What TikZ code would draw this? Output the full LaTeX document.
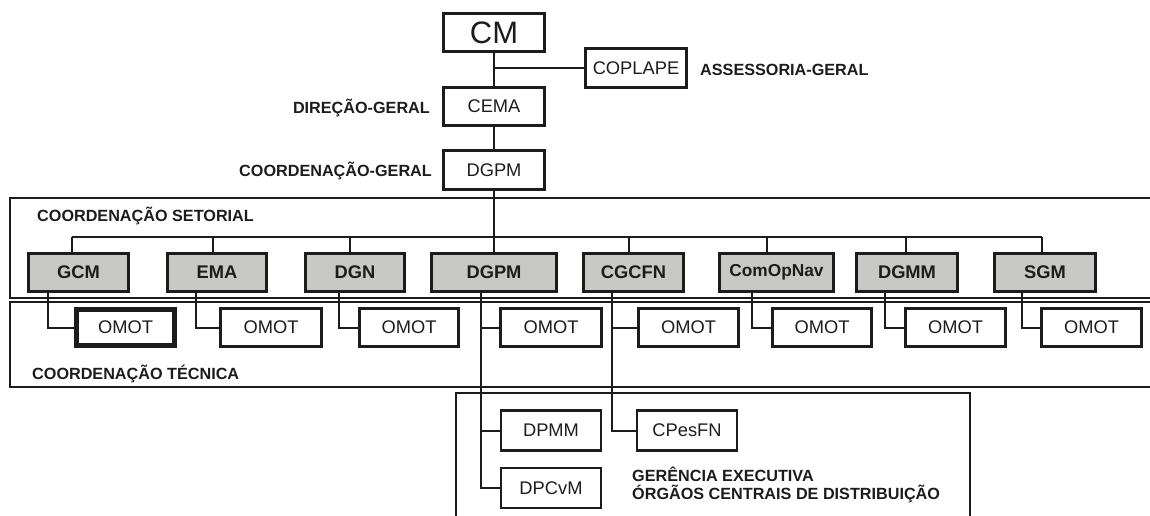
\documentclass[tikz,border=0pt]{standalone}
\usepackage{fontspec}
\setmainfont{Liberation Sans}
\definecolor{boxgray}{RGB}{200,201,198}
\definecolor{ink}{RGB}{28,28,28}
\begin{document}
\begin{tikzpicture}[x=1pt,y=-1pt,
  box/.style={draw=ink, line width=2.6pt, minimum height=38pt, minimum width=100pt, inner sep=0pt,
    font=\fontsize{18.3}{20}\selectfont, text=ink},
  gbox/.style={box, fill=boxgray, line width=3.2pt, font=\fontsize{18.3}{20}\selectfont\bfseries},
  lbl/.style={font=\fontsize{16.2}{18}\selectfont\bfseries, text=ink, inner sep=0pt},
  conn/.style={draw=ink, line width=2pt},
  thinconn/.style={draw=ink, line width=1.4pt},
  band/.style={draw=ink, line width=1.5pt}]
\useasboundingbox (0,0) rectangle (1150,515);

% bands
\draw[band] (1152,198) -- (10,198) -- (10,298) -- (1152,298);
\draw[band] (1152,302) -- (10,302) -- (10,387) -- (1152,387);
\draw[band] (456,520) -- (456,393) -- (970,393) -- (970,520);

% top hierarchy
\node[box, minimum width=101pt, font=\fontsize{31}{34}\selectfont] (cm) at (494,32.5) {CM};
\node[box, minimum width=101pt, minimum height=39pt, line width=2.3pt] (coplape) at (636,68) {COPLAPE};
\node[box, minimum width=101pt] (cema) at (494,106.5) {CEMA};
\node[box, minimum width=101pt, minimum height=39pt] (dgpm0) at (494,170) {DGPM};

\draw[conn] (cm.south) -- (cema.north);
\draw[thinconn] (cm.south |- coplape.west) -- (coplape.west);
\draw[conn] (cema.south) -- (dgpm0.north);

\node[lbl, anchor=base west] (assess) at (700,75.5) {ASSESSORIA-GERAL};
\node[lbl, anchor=base east] (dirg) at (430,113) {DIREÇÃO-GERAL};
\node[lbl, anchor=base east] (coordg) at (432,176) {COORDENAÇÃO-GERAL};

% sectorial level
\node[lbl, anchor=base west] (setorial) at (37,221) {COORDENAÇÃO SETORIAL};
\node[gbox, minimum width=100pt] (gcm) at (78.5,272.5) {GCM};
\node[gbox, minimum width=99pt] (ema) at (217,272.5) {EMA};
\node[gbox, minimum width=99pt] (dgn) at (355,272.5) {DGN};
\node[gbox, minimum width=125pt] (dgpm) at (494,272.5) {DGPM};
\node[gbox, minimum width=100pt] (cgcfn) at (633.5,272.5) {CGCFN};
\node[gbox, minimum width=114pt, font=\fontsize{17.3}{19}\selectfont\bfseries] (comop) at (776.5,272.5) {ComOpNav};
\node[gbox, minimum width=101pt] (dgmm) at (907,272.5) {DGMM};
\node[gbox, minimum width=101pt] (sgm) at (1045,272.5) {SGM};

\coordinate (b1) at (72,237);
\coordinate (b2) at (213,237);
\coordinate (b3) at (350,237);
\coordinate (b5) at (629,237);
\coordinate (b6) at (767,237);
\coordinate (b7) at (906,237);
\coordinate (b8) at (1042,237);
\draw[conn] (b1) -- (b8);
\draw[conn] (dgpm0.south) -- (dgpm.north);
\draw[conn] (b1) -- (b1 |- gcm.north);
\draw[conn] (b2) -- (b2 |- ema.north);
\draw[conn] (b3) -- (b3 |- dgn.north);
\draw[conn] (b5) -- (b5 |- cgcfn.north);
\draw[conn] (b6) -- (b6 |- comop.north);
\draw[conn] (b7) -- (b7 |- dgmm.north);
\draw[conn] (b8) -- (b8 |- sgm.north);

% technical level
\node[lbl, anchor=base west] (tecnica) at (32,379) {COORDENAÇÃO TÉCNICA};
\node[box, minimum width=98pt, minimum height=36pt, line width=5pt] (o1) at (125.5,327.5) {OMOT};
\node[box, minimum width=101pt] (o2) at (271,327.5) {OMOT};
\node[box, minimum width=99pt] (o3) at (409,327.5) {OMOT};
\node[box, minimum width=101pt] (o4) at (551,327.5) {OMOT};
\node[box, minimum width=100pt] (o5) at (688.5,327.5) {OMOT};
\node[box, minimum width=99pt] (o6) at (822,327.5) {OMOT};
\node[box, minimum width=100pt] (o7) at (955.5,327.5) {OMOT};
\node[box, minimum width=100pt] (o8) at (1091.5,327.5) {OMOT};

\coordinate (d1) at ([xshift=-30.5pt]gcm.south);
\coordinate (d2) at ([xshift=-21pt]ema.south);
\coordinate (d3) at ([xshift=-16pt]dgn.south);
\coordinate (d4) at ([xshift=-13pt]dgpm.south);
\coordinate (d5) at ([xshift=-21.5pt]cgcfn.south);
\coordinate (d6) at ([xshift=-24.5pt]comop.south);
\coordinate (d7) at ([xshift=-22pt]dgmm.south);
\coordinate (d8) at ([xshift=-23pt]sgm.south);
\draw[conn] (d1) |- (o1.west);
\draw[conn] (d2) |- (o2.west);
\draw[conn] (d3) |- (o3.west);
\draw[conn] (d6) |- (o6.west);
\draw[conn] (d7) |- (o7.west);
\draw[conn] (d8) |- (o8.west);

% executive level
\node[box, minimum height=40pt] (dpmm) at (551,430.5) {DPMM};
\node[box, minimum height=40pt] (dpcvm) at (551,488) {DPCvM};
\node[box, minimum height=40pt] (cpesfn) at (687,430.5) {CPesFN};

\draw[conn] (d4) |- (dpcvm.west);
\draw[conn] (d4 |- o4.west) -- (o4.west);
\draw[conn] (d4 |- dpmm.west) -- (dpmm.west);
\draw[conn] (d5) |- (cpesfn.west);
\draw[conn] (d5 |- o5.west) -- (o5.west);

\node[lbl, anchor=base west] (gerencia) at (632,481.5) {GERÊNCIA EXECUTIVA};
\node[lbl, anchor=base west] (orgaos) at (632,499.5) {ÓRGÃOS CENTRAIS DE DISTRIBUIÇÃO};
\end{tikzpicture}
\end{document}
